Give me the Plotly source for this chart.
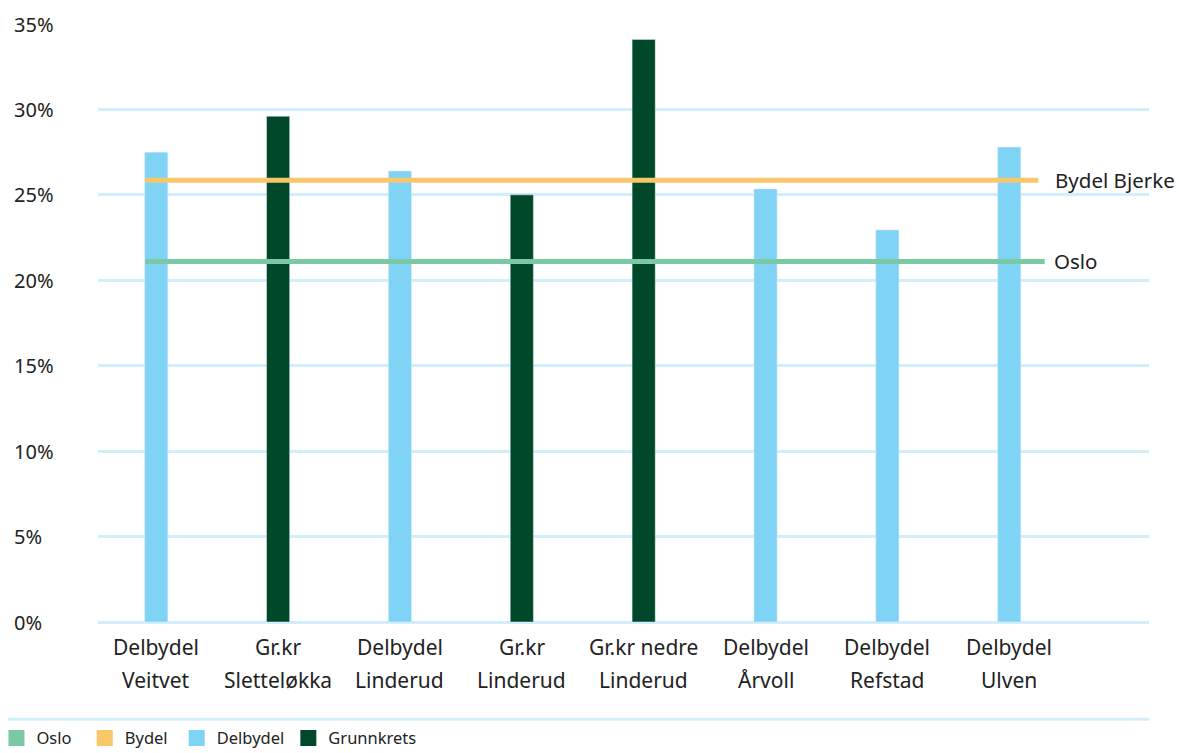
import plotly.graph_objects as go

categories = ["Delbydel<br>Veitvet", "Gr.kr<br>Sletteløkka", "Delbydel<br>Linderud", "Gr.kr<br>Linderud",
              "Gr.kr nedre<br>Linderud", "Delbydel<br>Årvoll", "Delbydel<br>Refstad", "Delbydel<br>Ulven"]
kinds = ["Delbydel", "Grunnkrets", "Delbydel", "Grunnkrets", "Grunnkrets", "Delbydel", "Delbydel", "Delbydel"]
values = [27.5, 29.6, 26.4, 25.0, 34.1, 25.35, 22.95, 27.8]
oslo_value = 21.1
bydel_value = 25.85
line_labels = ["Bydel Bjerke", "Oslo"]
legend_names = ["Oslo", "Bydel", "Delbydel", "Grunnkrets"]
y_ticks = [0, 5, 10, 15, 20, 25, 30, 35]
y_ticktext = ["0%", "5%", "10%", "15%", "20%", "25%", "30%", "35%"]

C_OSLO = "#79C9A4"
C_BYDEL = "#F8C76A"
C_DEL = "#7FD3F5"
C_GRK = "#00482A"
C_GRID = "#D2EDFB"
FONT = "Noto Sans"
TXT = "#222222"
legend_colors = [C_OSLO, C_BYDEL, C_DEL, C_GRK]
legend_x = [-0.0966, -0.0126, 0.0749, 0.1811]

xs = list(range(len(categories)))
fig = go.Figure()

fig.add_trace(go.Bar(x=[x for x, k in zip(xs, kinds) if k == "Delbydel"],
                     y=[v for v, k in zip(values, kinds) if k == "Delbydel"],
                     name="Delbydel", marker_color=C_DEL, width=0.19, showlegend=False))
fig.add_trace(go.Bar(x=[x for x, k in zip(xs, kinds) if k == "Grunnkrets"],
                     y=[v for v, k in zip(values, kinds) if k == "Grunnkrets"],
                     name="Grunnkrets", marker_color=C_GRK, width=0.19, showlegend=False))

x_start, x_end_b, x_end_o = -0.089, 7.238, 7.291
fig.add_trace(go.Scatter(x=[x_start, x_end_b], y=[bydel_value, bydel_value], mode="lines",
                         line=dict(color=C_BYDEL, width=5), showlegend=False, hoverinfo="skip"))
fig.add_trace(go.Scatter(x=[x_start, x_end_o], y=[oslo_value, oslo_value], mode="lines",
                         line=dict(color=C_OSLO, width=5), showlegend=False, hoverinfo="skip"))

# legend entries with square swatches, each in its own legend box for exact spacing
legend_ids = ["legend", "legend2", "legend3", "legend4"]
for n, c, lid in zip(legend_names, legend_colors, legend_ids):
    fig.add_trace(go.Scatter(x=[None], y=[None], mode="markers", name=n, legend=lid,
                             marker=dict(symbol="square", size=17, color=c)))

annotations = []
annotations.append(dict(x=x_end_b, y=bydel_value, xref="x", yref="y", text=line_labels[0], showarrow=False,
                        xanchor="left", xshift=15, font=dict(size=20.5, color=TXT, family=FONT)))
annotations.append(dict(x=x_end_o, y=oslo_value, xref="x", yref="y", text=line_labels[1], showarrow=False,
                        xanchor="left", xshift=7, font=dict(size=20.5, color=TXT, family=FONT)))
for v, t in zip(y_ticks, y_ticktext):
    annotations.append(dict(x=0, y=v, xref="paper", yref="y", text=t, showarrow=False, xanchor="left",
                            xshift=-86, font=dict(size=20, color=TXT, family=FONT)))
for x, c in zip(xs, categories):
    l1, l2 = c.split("<br>")
    annotations.append(dict(x=x, y=0, xref="x", yref="y", text=l1, showarrow=False, yanchor="middle",
                            yshift=-25, font=dict(size=21, color=TXT, family=FONT)))
    annotations.append(dict(x=x, y=0, xref="x", yref="y", text=l2, showarrow=False, yanchor="middle",
                            yshift=-58, font=dict(size=21, color=TXT, family=FONT)))

legend_style = dict(orientation="h", xanchor="left", y=-0.1943, yanchor="middle",
                    font=dict(size=16.5, color=TXT, family=FONT), bgcolor="rgba(0,0,0,0)")
legends = {lid: dict(legend_style, x=lx) for lid, lx in zip(legend_ids, legend_x)}

fig.update_layout(
    width=1179, height=753,
    margin=dict(l=98, r=30, t=24, b=131, autoexpand=False),
    plot_bgcolor="white", paper_bgcolor="white",
    barmode="overlay",
    font=dict(family=FONT, color=TXT),
    xaxis=dict(range=[-0.478, 8.147], showticklabels=False, showgrid=False, zeroline=False, fixedrange=True),
    yaxis=dict(range=[0, 35], tickvals=y_ticks, showticklabels=False, showgrid=True, gridcolor=C_GRID,
               gridwidth=3, zeroline=True, zerolinecolor=C_GRID, zerolinewidth=3),
    showlegend=True,
    annotations=annotations,
    shapes=[dict(type="line", xref="paper", yref="paper", x0=-0.0856, x1=1.0, y0=-0.1625, y1=-0.1625,
                 line=dict(color=C_GRID, width=3))],
    **legends,
)

fig.write_html("out.html", config={"displayModeBar": False},
               post_script="document.body.style.margin='0';document.body.style.overflow='hidden';")
